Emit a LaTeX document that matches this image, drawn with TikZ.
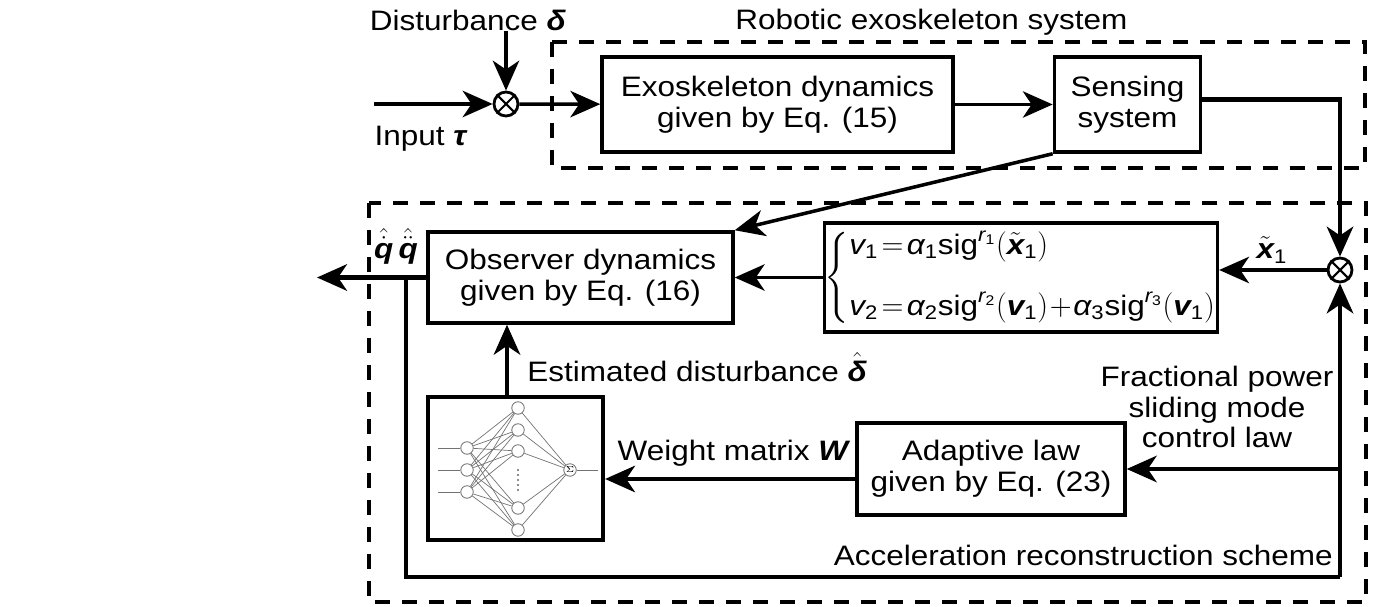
\documentclass[tikz,border=0pt]{standalone}
\usepackage{amsmath}
\usepackage{fontspec}
\setmainfont{Liberation Sans}[FakeStretch=1.12]
\usepackage{tikz}
\usetikzlibrary{arrows.meta, positioning}

\newcommand{\lbl}{\fontsize{16}{17.6}\selectfont}
\newcommand{\itv}[1]{\text{\itshape #1}}
\newcommand{\bfv}[1]{\text{\bfseries\itshape #1}}

\begin{document}
\begin{tikzpicture}[
    x=0.02cm, y=-0.02cm,
    >={Stealth[length=17pt, width=15pt, inset=5pt]},
    box/.style={rectangle, draw, line width=2pt, align=center, inner sep=0pt, font=\lbl},
    mult/.style={circle, draw, line width=1.6pt, minimum size=0.48cm, inner sep=0pt},
    arr/.style={->, line width=2pt},
    thk/.style={line width=2.6pt},
    dashbox/.style={line width=2pt, dash pattern=on 0.3cm off 0.24cm},
    lab/.style={font=\lbl, inner sep=0pt, align=center},
    neuron/.style={circle, draw=black!55, line width=0.5pt, minimum size=0.25cm, inner sep=0pt},
    wire/.style={black!55, line width=0.4pt}
]
\useasboundingbox (0,0) rectangle (1373,607);

% Dashed frames
\draw[dashbox] (552,42) rectangle (1365,168);
\draw[dashbox] (369,203) rectangle (1366,602);
\node[lab, anchor=west] (sysname) at (735,22) {Robotic exoskeleton system};
\node[lab, anchor=east] (schname) at (1333,555) {Acceleration reconstruction scheme};

% Upper row
\node[lab] (dist) at (468,20) {Disturbance \textbf{\textit{δ}}};
\node[lab] (inlbl) at (421,139) {Input \textbf{\textit{τ}}};
\coordinate (in) at (374,104);
\node[mult] (sum1) at (506,104) {};
\draw[line width=1.2pt] (sum1.45) -- (sum1.225) (sum1.135) -- (sum1.315);

\node[box, minimum width=7.02cm, minimum height=1.9cm] (exo) at (777.5,104.5) {Exoskeleton dynamics\\given by Eq. (15)};
\node[box, minimum width=2.92cm, minimum height=1.9cm, right=1.96cm of exo] (sense) {Sensing\\system};

% Lower part
\node[mult] (sum2) at (1340,270) {};
\draw[line width=1.2pt] (sum2.45) -- (sum2.225) (sum2.135) -- (sum2.315);

\node[box, minimum width=6.1cm, minimum height=1.82cm] (obs) at (580.5,277.5) {Observer dynamics\\given by Eq. (16)};
\node[box, minimum width=7.86cm, minimum height=2.18cm, right=1.76cm of obs] (eq) {$\thickmuskip=2mu \medmuskip=1mu
  \left\{\begin{array}{@{}l@{}}
    \itv{v}_{\text{1}} = \itv{α}_{\text{1}}\text{sig}^{\itv{r}_{\text{1}}}(\tilde{\bfv{x}}_{\text{1}}) \\[16pt]
    \itv{v}_{\text{2}} = \itv{α}_{\text{2}}\text{sig}^{\itv{r}_{\text{2}}}(\bfv{v}_{\text{1}}) + \itv{α}_{\text{3}}\text{sig}^{\itv{r}_{\text{3}}}(\bfv{v}_{\text{1}})
  \end{array}\right.$};
\node[lab] (xlbl) at (1272,250) {$\tilde{\bfv{x}}_{\text{1}}$};
\node[lab] (qlbl) at (396,246) {$\hat{\dot{\bfv{q}}}\,\hat{\ddot{\bfv{q}}}$};
\coordinate (out) at (317,277.5);

\node[box, minimum width=3.5cm, minimum height=2.86cm, line width=2.4pt] (nn) at (515.5,468.5) {};
\node[box, minimum width=5.36cm, minimum height=1.84cm] (adapt) at (991,469) {Adaptive law\\given by Eq. (23)};
\node[lab, anchor=west] (estlbl) at (527,367) {Estimated disturbance $\hat{\bfv{δ}}$};
\node[lab] (wlbl) at (734,453) {Weight matrix \textbf{\textit{W}}};
\node[lab] (ctrl) at (1217,407) {Fractional power\\sliding mode\\control law};
\coordinate (corner) at (1340,577);
\coordinate (fb) at (406,277.5);

% Small network inside nn
\foreach \y [count=\i] in {448,470,492} {
  \node[neuron] (in\i) at (467,\y) {};
  \draw[wire] (438,\y) -- (in\i);
}
\foreach \y [count=\j] in {408,430,451,508,530}
  \node[neuron] (hid\j) at (518,\y) {};
\foreach \y in {470,475,...,490}
  \fill[black!60] (518,\y) circle (0.6pt);
\node[neuron, font=\fontsize{5}{5}\selectfont] (sig) at (570,470) {$\Sigma$};
\foreach \i in {1,2,3}
  \foreach \j in {1,...,5}
    \draw[wire] (in\i) -- (hid\j);
\foreach \j in {1,...,5}
  \draw[wire] (hid\j) -- (sig);
\draw[wire] (sig) -- (598,470);

% ---- ARROWS ----
\draw[arr] (in) -- (sum1);
\draw[arr] (dist.south -| sum1) -- (sum1);
\draw[arr] (sum1) -- (exo);
\draw[arr] (exo) -- (sense);
\draw[arr, thk] ([yshift=3pt]sense.east) -| (sum2);
\draw[arr] (sense.south west) -- (obs.north east);
\draw[arr] (sum2) -- (eq.east |- sum2);
\draw[arr] (eq) -- (obs);
\draw[arr, thk] (obs) -- (out);
\draw[thk] (fb) |- (corner);
\draw[arr, thk] (corner) -- (sum2);
\draw[arr, thk] (adapt.east -| corner) -- (adapt);
\draw[arr, thk] ([yshift=-0.2cm]adapt.west) -- ([yshift=-0.2cm]adapt.west -| nn.east);
\draw[arr, thk] ([xshift=-0.17cm]nn.north) -- ([xshift=-0.17cm]nn.north |- obs.south);

\end{tikzpicture}
\end{document}
